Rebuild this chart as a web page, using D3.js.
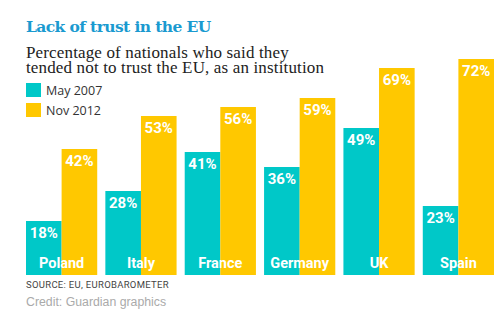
<!DOCTYPE html>
<html>
<head>
<meta charset="utf-8">
<script src="https://cdn.jsdelivr.net/npm/d3@7"></script>
<style>
  body { margin: 0; background: #fff; }
  svg { display: block; }
</style>
</head>
<body>
<svg width="503" height="332"></svg>
<script>
// data
const countries = ["Poland", "Italy", "France", "Germany", "UK", "Spain"];
const may2007 = [18, 28, 41, 36, 49, 23];
const nov2012 = [42, 53, 56, 59, 69, 72];
const seriesNames = ["May 2007", "Nov 2012"];
const colors = ["#00c8c8", "#ffc800"];

const svg = d3.select("svg");

// title + subtitle
svg.append("text")
  .attr("x", 26).attr("y", 32)
  .attr("font-family", "DejaVu Serif, serif")
  .attr("font-weight", "bold")
  .attr("font-size", 15.5)
  .attr("letter-spacing", -0.6)
  .attr("fill", "#1a9ad0")
  .text("Lack of trust in the EU");

const sub = ["Percentage of nationals who said they", "tended not to trust the EU, as an institution"];
svg.selectAll("text.sub")
  .data(sub)
  .enter().append("text")
  .attr("class", "sub")
  .attr("x", 26)
  .attr("y", (d, i) => 57.5 + i * 15.5)
  .attr("font-family", "Liberation Serif, serif")
  .attr("font-size", 17)
  .attr("letter-spacing", 0.15)
  .attr("fill", "#222")
  .text((d) => d);

// legend
const legend = svg.selectAll("g.legend")
  .data(seriesNames)
  .enter().append("g")
  .attr("class", "legend")
  .attr("transform", (d, i) => `translate(26,${83 + i * 20})`);
legend.append("rect")
  .attr("width", 15).attr("height", 14)
  .attr("fill", (d, i) => colors[i]);
legend.append("text")
  .attr("x", 20).attr("y", 12)
  .attr("font-family", "Open Sans, sans-serif")
  .attr("font-size", 12.5)
  .attr("fill", "#333")
  .text((d) => d);

// scales
const x = d3.scaleBand()
  .domain(countries)
  .range([26, 494])
  .paddingInner(8 / 78)
  .paddingOuter(0)
  .align(0);

const x1 = d3.scaleBand()
  .domain([0, 1])
  .range([0, x.bandwidth()]);

const y = d3.scaleLinear()
  .domain([0, 72])
  .range([275, 59]);

const rows = countries.map((c, i) => ({ c, vals: [may2007[i], nov2012[i]] }));

const groups = svg.selectAll("g.country")
  .data(rows)
  .enter().append("g")
  .attr("class", "country")
  .attr("transform", (d) => `translate(${x(d.c)},0)`);

groups.selectAll("rect")
  .data((d) => d.vals)
  .enter().append("rect")
  .attr("x", (d, i) => x1(i))
  .attr("y", (d) => y(d))
  .attr("width", x1.bandwidth())
  .attr("height", (d) => y(0) - y(d))
  .attr("fill", (d, i) => colors[i]);

groups.selectAll("text.val")
  .data((d) => d.vals)
  .enter().append("text")
  .attr("class", "val")
  .attr("x", (d, i) => x1(i) + x1.bandwidth() / 2)
  .attr("y", (d) => y(d) + 17)
  .attr("text-anchor", "middle")
  .attr("font-family", "Roboto, sans-serif")
  .attr("font-weight", "bold")
  .attr("font-size", 15)
  .attr("fill", "#fff")
  .text((d) => d + "%");

groups.append("text")
  .attr("x", x.bandwidth() / 2)
  .attr("y", 268)
  .attr("text-anchor", "middle")
  .attr("font-family", "Roboto, sans-serif")
  .attr("font-weight", "bold")
  .attr("font-size", 14.5)
  .attr("fill", "#fff")
  .text((d) => d.c);

// footer
svg.append("text")
  .attr("x", 26).attr("y", 288)
  .attr("font-family", "Roboto, sans-serif")
  .attr("font-size", 9.5)
  .attr("letter-spacing", 0.3)
  .attr("fill", "#444")
  .text("SOURCE: EU, EUROBAROMETER");

svg.append("text")
  .attr("x", 26).attr("y", 306)
  .attr("font-family", "Liberation Sans, Arial, sans-serif")
  .attr("font-size", 12.3)
  .attr("fill", "#aaa")
  .text("Credit: Guardian graphics");
</script>
</body>
</html>
